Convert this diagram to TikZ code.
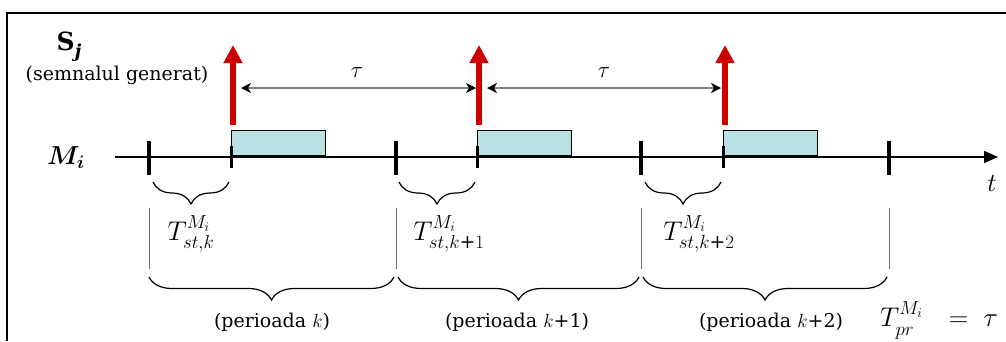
\RequirePackage{fix-cm}
\documentclass[tikz,border=0pt]{standalone}
\usepackage{amsmath}
\usepackage{bm}
\usepackage{fontspec}
\setmainfont{DejaVu Serif}
\usetikzlibrary{arrows.meta,decorations.pathreplacing}
\definecolor{boxcyan}{RGB}{185,224,226}
\definecolor{sigred}{RGB}{204,0,0}
\definecolor{taugray}{RGB}{128,128,128}
\definecolor{guidegray}{RGB}{110,110,110}
\tikzset{
  frameline/.style={line width=1.3pt},
  axisline/.style={line width=1.5pt,-{Triangle[length=14pt,width=12pt]}},
  majortick/.style={line width=4pt},
  minortick/.style={line width=3pt},
  jobbox/.style={draw,line width=1.2pt,fill=boxcyan},
  signal/.style={draw=sigred,line width=6pt,-{Triangle[length=18pt,width=18pt]}},
  tauarrow/.style={draw=taugray,line width=1.3pt,
     {Stealth[black,length=10pt,width=10pt,inset=3pt]}-{Stealth[black,length=10pt,width=10pt,inset=3pt]}},
  guide/.style={draw=guidegray,line width=0.9pt},
  bracesmall/.style={decorate,decoration={brace,mirror,amplitude=22pt},line width=1.2pt},
  bracebig/.style={decorate,decoration={brace,mirror,amplitude=23pt},line width=1.2pt},
  lbl/.style={inner sep=0pt,font=\fontsize{19}{22}\selectfont},
  mlbl/.style={inner sep=0pt,font=\fontsize{27}{30}\selectfont},
}
\begin{document}
\begin{tikzpicture}[x=1pt,y=-1pt]
\useasboundingbox (0,0) rectangle (1006,341);
% frame (partially visible)
\coordinate (F0) at (7,341);
\coordinate (F1) at (7,13);
\coordinate (F2) at (1006,13);
\draw[frameline] (F0) -- (F1) -- (F2);

% job boxes
\foreach \i/\x in {0/231,1/477,2/723}{
  \node[jobbox,minimum width=94pt,minimum height=25pt,inner sep=0pt,anchor=south west] (B\i) at (\x,156) {};
}
% time axis
\coordinate (A0) at (115,157);
\coordinate (A1) at (998,157);
\draw[axisline] (A0) -- (A1);

% period boundaries
\foreach \i/\x in {0/149,1/396,2/641,3/889}{
  \coordinate (P\i t) at (\x,141);
  \coordinate (P\i b) at (\x,175);
  \draw[majortick] (P\i t) -- (P\i b);
  \coordinate (G\i t) at (\x,208);
  \coordinate (G\i b) at (\x,269);
  \draw[guide] (G\i t) -- (G\i b);
}
% start ticks, signals, small braces
\foreach \i/\x in {0/231,1/477,2/723}{
  \coordinate (S\i t) at (\x,146);
  \coordinate (S\i b) at (\x,168);
  \draw[minortick] (S\i t) -- (S\i b);
  \coordinate (R\i b) at (\x+2,125);
  \coordinate (R\i t) at (\x+2,45);
  \draw[signal] (R\i b) -- (R\i t);
  \coordinate (C\i l) at (\x-78,182);
  \coordinate (C\i r) at (\x-2,182);
  \draw[bracesmall] (C\i l) -- (C\i r);
}
% tau arrows
\coordinate (T0l) at (241,88);
\coordinate (T0r) at (476,88);
\coordinate (T1l) at (487,88);
\coordinate (T1r) at (721,88);
\draw[tauarrow] (T0l) -- (T0r);
\draw[tauarrow] (T1l) -- (T1r);
\node[inner sep=0pt,font=\fontsize{23}{26}\selectfont] (tau0) at (357,73) {$\tau$};
\node[inner sep=0pt,font=\fontsize{23}{26}\selectfont] (tau1) at (604,73) {$\tau$};

% big braces
\coordinate (D0l) at (149,277); \coordinate (D0r) at (394,277);
\coordinate (D1l) at (398,277); \coordinate (D1r) at (639,277);
\coordinate (D2l) at (643,277); \coordinate (D2r) at (887,277);
\draw[bracebig] (D0l) -- (D0r);
\draw[bracebig] (D1l) -- (D1r);
\draw[bracebig] (D2l) -- (D2r);

% labels
\node[inner sep=0pt,font=\fontsize{25}{28}\selectfont\bfseries] (Sj) at (69,47)
  {S\raisebox{-0.28em}{\fontsize{18}{20}\selectfont\bfseries\itshape j}};
\node[lbl] (gen) at (117,75) {(semnalul generat)};
\node[inner sep=0pt,font=\fontsize{26}{30}\selectfont] (Mi) at (66,158) {$\bm{M_i}$};
\node[inner sep=0pt,font=\fontsize{26}{30}\selectfont] (tt) at (992,183) {$t$};

\node[mlbl] (L0) at (191,234) {$T_{st,k}^{M_i}$};
\node[mlbl] (L1) at (449,234) {$T_{st,k\text{+}1}^{M_i}$};
\node[mlbl] (L2) at (699,234) {$T_{st,k\text{+}2}^{M_i}$};

\node[lbl] (K0) at (272,322) {(perioada $k$)};
\node[lbl] (K1) at (517,322) {(perioada $k$+1)};
\node[lbl] (K2) at (771,322) {(perioada $k$+2)};

\node[mlbl,anchor=base west] (Tpr) at (880,326) {$T^{\raisebox{2pt}{$\scriptstyle M_i$}}_{\raisebox{-3pt}{$\scriptstyle pr$}}$};
\node[mlbl,anchor=base east] (Teq) at (998,326) {$=\;\tau$};
\end{tikzpicture}
\end{document}
